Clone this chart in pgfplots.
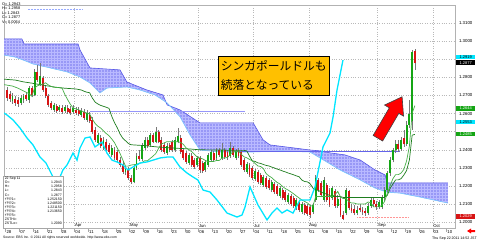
\documentclass[border=0pt]{standalone}
\usepackage{fontspec}
\setmainfont{Liberation Sans}
\newfontfamily\cjk{Noto Sans CJK JP}
\usepackage{pgfplots}
\pgfplotsset{compat=1.18}
\usepackage{pgfplotstable}
\usepgfplotslibrary{fillbetween}
\usetikzlibrary{patterns}

\definecolor{cloudfill}{RGB}{152,152,246}
\definecolor{cloudhatch}{RGB}{185,185,255}
\definecolor{cloudtop}{RGB}{90,90,230}
\definecolor{cloudbot}{RGB}{120,200,255}
\definecolor{chikou}{RGB}{0,230,255}
\definecolor{tenkan}{RGB}{70,175,70}
\definecolor{kijun}{RGB}{30,125,30}
\definecolor{candR}{RGB}{215,20,20}
\definecolor{candG}{RGB}{20,165,20}
\definecolor{wick}{RGB}{120,120,120}
\definecolor{annot}{RGB}{255,192,0}
\definecolor{hlA}{RGB}{150,170,255}
\definecolor{hlB}{RGB}{150,150,250}
\definecolor{hlC}{RGB}{100,100,235}
\definecolor{hlD}{RGB}{255,150,150}

% rising sessions: day o h l c
\pgfplotstableread{
d o h l c
2 1.2670 1.2714 1.2653 1.2697
5 1.2659 1.2700 1.2645 1.2686
6 1.2675 1.2710 1.2660 1.2697
8 1.2675 1.2755 1.2660 1.2741
10 1.2703 1.2845 1.2695 1.2830
12 1.2763 1.2880 1.2750 1.2807
17 1.2620 1.2660 1.2610 1.2648
19 1.2620 1.2650 1.2610 1.2637
21 1.2615 1.2650 1.2605 1.2637
24 1.2609 1.2645 1.2600 1.2631
27 1.2593 1.2630 1.2580 1.2615
29 1.2565 1.2620 1.2555 1.2604
33 1.2438 1.2495 1.2425 1.2482
35 1.2410 1.2470 1.2400 1.2455
38 1.2372 1.2425 1.2360 1.2410
43 1.2278 1.2310 1.2260 1.2295
46 1.2222 1.2315 1.2215 1.2300
47 1.2300 1.2380 1.2290 1.2366
49 1.2350 1.2435 1.2340 1.2421
50 1.2410 1.2470 1.2400 1.2455
52 1.2427 1.2495 1.2415 1.2482
54 1.2444 1.2526 1.2435 1.2499
58 1.2383 1.2435 1.2372 1.2421
61 1.2399 1.2468 1.2390 1.2455
62 1.2444 1.2521 1.2435 1.2477
66 1.2328 1.2385 1.2317 1.2372
69 1.2317 1.2368 1.2305 1.2355
72 1.2289 1.2345 1.2278 1.2333
73 1.2317 1.2385 1.2305 1.2372
74 1.2344 1.2400 1.2333 1.2388
76 1.2355 1.2410 1.2345 1.2399
78 1.2355 1.2438 1.2345 1.2399
81 1.2366 1.2444 1.2355 1.2410
83 1.2355 1.2405 1.2344 1.2394
87 1.2278 1.2333 1.2267 1.2322
90 1.2239 1.2295 1.2228 1.2284
93 1.2206 1.2261 1.2194 1.2250
96 1.2178 1.2234 1.2166 1.2222
99 1.2144 1.2200 1.2134 1.2189
102 1.2111 1.2161 1.2100 1.2150
105 1.2079 1.2134 1.2067 1.2122
107 1.2057 1.2111 1.2045 1.2100
111 1.2057 1.2106 1.2045 1.2095
112 1.2122 1.2261 1.2111 1.2245
115 1.2122 1.2250 1.2111 1.2234
118 1.2134 1.2200 1.2122 1.2189
120 1.2090 1.2150 1.2080 1.2130
123 1.2051 1.2189 1.2040 1.2178
127 1.2051 1.2090 1.2040 1.2070
131 1.2051 1.2105 1.2040 1.2090
132 1.2090 1.2135 1.2080 1.2122
135 1.2085 1.2125 1.2075 1.2110
136 1.2084 1.2150 1.2073 1.2139
137 1.2139 1.2195 1.2120 1.2178
138 1.2178 1.2285 1.2165 1.2272
139 1.2272 1.2361 1.2255 1.2344
140 1.2344 1.2410 1.2330 1.2399
141 1.2399 1.2455 1.2380 1.2430
143 1.2405 1.2470 1.2395 1.2455
145 1.2430 1.2560 1.2420 1.2537
146 1.2537 1.2675 1.2520 1.2600
147 1.2560 1.2950 1.2510 1.2940
}\upc

% falling sessions
\pgfplotstableread{
d o h l c
0 1.2730 1.2747 1.2670 1.2686
1 1.2708 1.2725 1.2664 1.2681
3 1.2681 1.2697 1.2642 1.2659
4 1.2675 1.2690 1.2637 1.2653
7 1.2703 1.2720 1.2670 1.2681
9 1.2741 1.2752 1.2690 1.2703
11 1.2830 1.2868 1.2775 1.2785
13 1.2796 1.2810 1.2720 1.2730
14 1.2741 1.2755 1.2685 1.2697
15 1.2697 1.2710 1.2635 1.2648
16 1.2659 1.2670 1.2620 1.2631
18 1.2642 1.2655 1.2605 1.2615
20 1.2631 1.2645 1.2600 1.2609
22 1.2631 1.2645 1.2598 1.2609
23 1.2626 1.2640 1.2592 1.2604
25 1.2620 1.2635 1.2592 1.2604
26 1.2620 1.2635 1.2585 1.2598
28 1.2609 1.2625 1.2565 1.2576
30 1.2593 1.2610 1.2550 1.2560
31 1.2565 1.2580 1.2490 1.2499
32 1.2510 1.2525 1.2445 1.2455
34 1.2466 1.2480 1.2410 1.2421
36 1.2444 1.2460 1.2390 1.2399
37 1.2427 1.2440 1.2378 1.2388
39 1.2399 1.2415 1.2345 1.2355
40 1.2388 1.2400 1.2333 1.2344
41 1.2344 1.2360 1.2305 1.2317
42 1.2317 1.2330 1.2267 1.2278
44 1.2295 1.2305 1.2234 1.2245
45 1.2245 1.2260 1.2210 1.2222
48 1.2366 1.2400 1.2340 1.2350
51 1.2455 1.2470 1.2410 1.2421
53 1.2482 1.2495 1.2435 1.2444
55 1.2499 1.2510 1.2435 1.2444
56 1.2455 1.2470 1.2390 1.2399
57 1.2427 1.2440 1.2378 1.2388
59 1.2427 1.2440 1.2388 1.2399
60 1.2444 1.2455 1.2388 1.2399
63 1.2466 1.2480 1.2378 1.2388
64 1.2399 1.2410 1.2345 1.2355
65 1.2383 1.2395 1.2322 1.2333
67 1.2366 1.2380 1.2305 1.2317
68 1.2344 1.2355 1.2295 1.2306
70 1.2355 1.2368 1.2272 1.2289
71 1.2328 1.2340 1.2272 1.2284
75 1.2383 1.2395 1.2333 1.2344
77 1.2399 1.2410 1.2361 1.2372
79 1.2399 1.2410 1.2350 1.2361
80 1.2388 1.2400 1.2344 1.2355
82 1.2410 1.2421 1.2361 1.2372
84 1.2399 1.2410 1.2355 1.2366
85 1.2388 1.2400 1.2305 1.2317
86 1.2344 1.2355 1.2278 1.2289
88 1.2317 1.2328 1.2250 1.2261
89 1.2300 1.2311 1.2234 1.2245
91 1.2278 1.2289 1.2211 1.2222
92 1.2261 1.2272 1.2206 1.2217
94 1.2245 1.2256 1.2183 1.2194
95 1.2234 1.2245 1.2178 1.2189
97 1.2211 1.2222 1.2155 1.2166
98 1.2200 1.2211 1.2144 1.2155
100 1.2178 1.2189 1.2122 1.2134
101 1.2166 1.2178 1.2111 1.2122
103 1.2144 1.2155 1.2090 1.2100
104 1.2134 1.2144 1.2079 1.2090
106 1.2111 1.2122 1.2057 1.2067
108 1.2095 1.2106 1.2040 1.2051
109 1.2090 1.2100 1.2035 1.2045
110 1.2084 1.2095 1.2023 1.2040
113 1.2234 1.2245 1.2166 1.2178
114 1.2217 1.2228 1.2139 1.2150
116 1.2206 1.2217 1.2111 1.2122
117 1.2178 1.2189 1.2084 1.2095
119 1.2172 1.2183 1.2079 1.2090
121 1.2130 1.2144 1.2030 1.2040
122 1.2040 1.2060 1.2012 1.2020
124 1.2170 1.2180 1.2067 1.2079
125 1.2079 1.2100 1.2050 1.2060
126 1.2075 1.2095 1.2040 1.2051
128 1.2080 1.2100 1.2055 1.2067
129 1.2067 1.2085 1.2040 1.2055
130 1.2060 1.2080 1.2035 1.2051
133 1.2122 1.2135 1.2085 1.2100
134 1.2100 1.2115 1.2070 1.2085
142 1.2430 1.2455 1.2390 1.2405
144 1.2465 1.2510 1.2416 1.2430
148 1.2943 1.2958 1.2843 1.2877
}\downc

% lagging span as drawn
\pgfplotstableread{
d v
-1.09 1.2603
0 1.2592
2.18 1.2565
4.72 1.2520
7.26 1.2465
9.43 1.2427
11.97 1.2360
14.15 1.2327
16.69 1.2250
18.1 1.2233
19.23 1.2250
20.3 1.2289
21.77 1.2316
23.95 1.2382
25.4 1.2343
26.49 1.2410
28.3 1.2465
30.12 1.2471
31.93 1.2416
34.47 1.2443
36.28 1.2382
38.1 1.2343
39.91 1.2333
42.09 1.2316
43.9 1.2289
45.72 1.2305
48.26 1.2327
50.8 1.2333
52.98 1.2343
55.52 1.2355
58.05 1.2360
60.23 1.2360
62.77 1.2305
65.31 1.2272
67.49 1.2250
69.3 1.2233
71.12 1.2178
73.66 1.2167
76.2 1.2123
79.83 1.2051
83.45 1.2029
85.27 1.2040
86.36 1.2084
88.17 1.2195
91.08 1.2095
94.34 1.2013
96.15 1.2051
97.97 1.2079
99.78 1.2051
101.6 1.2068
103.77 1.2051
106.31 1.2123
109.94 1.2123
111.76 1.2195
114.66 1.2416
117.2 1.2493
118.3 1.2581
119.74 1.2730
121.9 1.2895
}\chik

\pgfplotstableread{
d v
-1.1 1.3012
5.4 1.3012
6.2 1.2984
25.8 1.2984
26.5 1.2951
30.1 1.2852
41.0 1.2841
43.5 1.2774
50.8 1.2730
56.6 1.2703
58.1 1.2648
62.8 1.2620
70.0 1.2549
89.3 1.2549
92.9 1.2455
95.4 1.2427
109.9 1.2399
113.6 1.2394
117.2 1.2383
122.6 1.2372
128.1 1.2344
133.5 1.2289
137.2 1.2261
137.9 1.2217
160.0 1.2217
}\cloudTop

\pgfplotstableread{
d v
-1.1 1.2923
2.9 1.2912
5.8 1.2896
9.4 1.2874
15.6 1.2852
21.8 1.2830
26.5 1.2802
30.1 1.2769
33.7 1.2714
36.3 1.2741
43.5 1.2747
48.3 1.2730
53.7 1.2703
58.1 1.2659
62.8 1.2582
66.4 1.2482
70.0 1.2399
77.3 1.2388
89.3 1.2388
99.1 1.2394
109.9 1.2388
113.6 1.2355
120.8 1.2289
128.1 1.2234
133.5 1.2189
137.9 1.2166
142.6 1.2161
149.9 1.2139
160.0 1.2106
}\cloudBot

\begin{document}
\begin{tikzpicture}
\begin{axis}[
  at={(0,0)}, anchor=south west, scale only axis,
  width=451bp, height=223bp,
  xmin=-1.09, xmax=162.55, ymin=1.19684, ymax=1.31994,
  axis background/.style={fill=white},
  axis line style={gray!60, line width=0.4bp},
  xtick={-0.5,4.5,...,159.5},
  xticklabels={28,07,14,21,28,04,11,18,25,02,09,16,23,30,06,13,20,27,04,11,18,25,01,08,15,22,29,05,12,19,26,03,10},
  xtick align=outside, xtick pos=bottom,
  major tick length=3.5bp,
  xtick style={gray!70, line width=0.4bp},
  xticklabel style={font=\fontsize{4.3}{5}\selectfont, anchor=north west, inner sep=0.4bp, xshift=0.3bp},
  xticklabel shift=-2bp,
  extra x ticks={24.5,44.5,69.5,89.5,109.5,134.5,154.5},
  extra x tick labels={},
  extra x tick style={grid=major, major tick length=0pt},
  ytick={1.20,1.21,1.22,1.23,1.24,1.25,1.26,1.27,1.28,1.29,1.30,1.31},
  yticklabels={1.2000,1.2100,1.2200,1.2300,1.2400,,1.2600,1.2700,1.2800,,1.3000,1.3100},
  ymajorgrids,
  major grid style={gray!55, dotted, line width=0.4bp},
  yticklabel pos=right,
  ytick style={draw=none},
  yticklabel style={font=\fontsize{4.4}{5}\selectfont, anchor=west, xshift=0.5bp},
]
% cloud
\addplot[draw=none, name path=ctop, forget plot] table[x=d, y=v] {\cloudTop};
\addplot[draw=none, name path=cbot, forget plot] table[x=d, y=v] {\cloudBot};
\addplot[fill=cloudfill, draw=none, forget plot] fill between[of=ctop and cbot];
\addplot[pattern=grid, pattern color=cloudhatch, draw=none, forget plot] fill between[of=ctop and cbot];
\addplot[cloudtop, line width=0.6bp, forget plot] table[x=d, y=v] {\cloudTop};
\addplot[cloudbot, line width=0.6bp, forget plot] table[x=d, y=v] {\cloudBot};

% horizontal reference lines
\addplot[hlA, densely dotted, line width=0.5bp, forget plot] coordinates {(7.6,1.3177) (27.2,1.3177)};
\addplot[hlB, line width=0.45bp, forget plot] coordinates {(30,1.2614) (86.4,1.2614)};
\addplot[hlC, line width=0.5bp, forget plot] coordinates {(83.5,1.2394) (142.6,1.2394)};
\addplot[hlD, densely dotted, line width=0.5bp, forget plot] coordinates {(127,1.2029) (146,1.2029)};

% wicks
\addplot[draw=none, mark=none, forget plot,
  error bars/.cd, y dir=plus, y explicit, error mark=none,
  error bar style={line width=0.5bp, wick}]
  table[x=d, y=l, y error expr=\thisrow{h}-\thisrow{l}] {\upc};
\addplot[draw=none, mark=none, forget plot,
  error bars/.cd, y dir=plus, y explicit, error mark=none,
  error bar style={line width=0.5bp, wick}]
  table[x=d, y=l, y error expr=\thisrow{h}-\thisrow{l}] {\downc};
% bodies
\addplot[draw=none, mark=none, forget plot,
  error bars/.cd, y dir=plus, y explicit, error mark=none,
  error bar style={line width=1.9bp, candG}]
  table[x=d, y=o, y error expr=\thisrow{c}-\thisrow{o}] {\upc};
\addplot[draw=none, mark=none, forget plot,
  error bars/.cd, y dir=plus, y explicit, error mark=none,
  error bar style={line width=1.9bp, candR}]
  table[x=d, y=c, y error expr=\thisrow{o}-\thisrow{c}] {\downc};

% Kijun
\addplot[kijun, line width=0.7bp, no marks] coordinates {
(-1.1,1.2790) (3,1.2785) (6,1.2775) (9,1.2768) (12,1.2760) (15,1.2752) (18,1.2745) (21,1.2740) (24,1.2737)
(25,1.2736) (26,1.2733) (27,1.2730) (28,1.2723) (29,1.2718) (30,1.2715) (31,1.2685) (32,1.2663) (33,1.2653)
(34,1.2645) (35,1.2640) (36,1.2635) (37,1.2629) (38,1.2585) (39,1.2550) (40,1.2522) (41,1.2488) (42,1.2464)
(43,1.2450) (44,1.2435) (45,1.2428) (50,1.2423) (55,1.2415) (60,1.2410) (66,1.2405) (70,1.2400) (79,1.2399)
(80,1.2397) (86,1.2397) (87,1.2394) (88,1.2365) (89,1.2339) (90,1.2336) (91,1.2328) (92,1.2325) (93,1.2319)
(94,1.2314) (95,1.2311) (96,1.2305) (97,1.2300) (98,1.2294) (99,1.2289) (100,1.2283) (101,1.2278) (102,1.2272)
(103,1.2267) (104,1.2262) (105,1.2256) (106,1.2251) (107,1.2233) (108,1.2225) (109,1.2223) (110,1.2212)
(111,1.2189) (112,1.2178) (113,1.2176) (114,1.2167) (115,1.2159) (116,1.2156) (117,1.2148) (118,1.2142)
(121,1.2142) (122,1.2137) (137,1.2137) (138,1.2149) (139,1.2187) (140,1.2211) (141,1.2234) (142,1.2234)
(143,1.2241) (144,1.2261) (145,1.2286) (146,1.2344) (147,1.2481) (148,1.2485)};

% Tenkan
\addplot[tenkan, line width=0.7bp, no marks] coordinates {
(-1.1,1.2760) (2,1.2752) (4,1.2740) (6,1.2725) (8,1.2710) (9,1.2696) (10,1.2741) (11,1.2753) (12,1.2759)
(13,1.2763) (14,1.2770) (15,1.2758) (16,1.2750) (17,1.2745) (19,1.2743) (20,1.2740) (21,1.2705) (22,1.2677)
(23,1.2651) (24,1.2631) (25,1.2626) (26,1.2620) (27,1.2615) (28,1.2608) (29,1.2603) (30,1.2598) (31,1.2568)
(32,1.2545) (33,1.2530) (34,1.2520) (35,1.2505) (36,1.2490) (37,1.2478) (38,1.2460) (39,1.2440) (40,1.2410)
(41,1.2380) (42,1.2345) (43,1.2310) (44,1.2310) (45,1.2316) (46,1.2318) (47,1.2320) (48,1.2325) (49,1.2330)
(50,1.2340) (51,1.2340) (52,1.2353) (53,1.2365) (54,1.2380) (55,1.2408) (56,1.2433) (57,1.2438) (58,1.2445)
(62,1.2445) (63,1.2440) (64,1.2430) (65,1.2410) (66,1.2400) (67,1.2390) (68,1.2375) (69,1.2360) (70,1.2355)
(71,1.2350) (72,1.2341) (73,1.2334) (74,1.2336) (75,1.2336) (76,1.2341) (77,1.2341) (78,1.2355) (79,1.2355)
(80,1.2358) (81,1.2375) (82,1.2389) (83,1.2389) (84,1.2394) (85,1.2375) (86,1.2361) (87,1.2356) (88,1.2347)
(89,1.2339) (90,1.2325) (91,1.2311) (92,1.2308) (93,1.2297) (94,1.2269) (95,1.2256) (96,1.2247) (97,1.2233)
(98,1.2220) (99,1.2212) (100,1.2197) (101,1.2186) (102,1.2178) (103,1.2168) (104,1.2157) (105,1.2145)
(106,1.2134) (107,1.2123) (108,1.2115) (109,1.2107) (110,1.2092) (111,1.2089) (112,1.2142) (118,1.2142)
(119,1.2153) (120,1.2170) (121,1.2140) (122,1.2131) (123,1.2131) (124,1.2115) (125,1.2106) (126,1.2106)
(127,1.2101) (130,1.2101) (131,1.2112) (132,1.2108) (133,1.2085) (135,1.2085) (136,1.2093) (137,1.2115)
(138,1.2160) (139,1.2201) (140,1.2240) (141,1.2263) (142,1.2263) (143,1.2272) (144,1.2292) (145,1.2340)
(146,1.2420) (147,1.2603) (148,1.2644)};

% Chikou span
\addplot[chikou, line width=1.3bp, no marks] table[x=d, y=v] {\chik};

% month names
\node[anchor=south west, inner sep=0.3bp, font=\fontsize{4.2}{5}\selectfont] at (axis cs:24.5,1.19684) {Apr};
\node[anchor=south west, inner sep=0.3bp, font=\fontsize{4.2}{5}\selectfont] at (axis cs:44.5,1.19684) {May};
\node[anchor=south west, inner sep=0.3bp, font=\fontsize{4.2}{5}\selectfont] at (axis cs:69.5,1.19684) {Jun};
\node[anchor=south west, inner sep=0.3bp, font=\fontsize{4.2}{5}\selectfont] at (axis cs:89.5,1.19684) {Jul};
\node[anchor=south west, inner sep=0.3bp, font=\fontsize{4.2}{5}\selectfont] at (axis cs:109.5,1.19684) {Aug};
\node[anchor=south west, inner sep=0.3bp, font=\fontsize{4.2}{5}\selectfont] at (axis cs:134.5,1.19684) {Sep};
\node[anchor=south west, inner sep=0.3bp, font=\fontsize{4.2}{5}\selectfont] at (axis cs:154.5,1.19684) {Oct};
\end{axis}

% top-left OHLC readout
\node[anchor=north west, inner sep=0, align=left, font=\fontsize{3.9}{4.5}\selectfont] at (-2bp,225.5bp)
  {O= 1.2943\\H= 1.2958\\L= 1.2843\\C= 1.2877\\V= 0.0064};

% data box
\filldraw[fill=white, draw=gray!70, line width=0.4bp] (-0.5bp,0.3bp) rectangle (59bp,52bp);
\node[anchor=north west, inner sep=0] at (0.6bp,51.6bp) {\fontsize{3.5}{4.15}\selectfont
\begin{tabular*}{57bp}{@{}l@{\extracolsep{\fill}}r@{}}
22 Sep 11 & \\
O= & 1.2943\\
H= & 1.2958\\
L= & 1.2843\\
C= & 1.2877\\
{\cjk ｲﾁﾓｸ1}= & 1.252150\\
{\cjk ｲﾁﾓｸ2}= & 1.248500\\
{\cjk ｲﾁﾓｸ3}= & 1.221150\\
{\cjk ｲﾁﾓｸ4}= & 1.213650\\
{\cjk ｲﾁﾓｸ5}= & \\
ZSTHi= & \\
ZSTLo= & 1.2090
\end{tabular*}};

% right-side value tags
\node[fill=chikou, inner sep=0, anchor=west, minimum width=19bp, minimum height=4.6bp, font=\fontsize{4}{4}\selectfont] at (452bp,171bp) {1.2919};
\node[fill=black, text=white, inner sep=0, anchor=west, minimum width=19bp, minimum height=4.6bp, font=\fontsize{4}{4}\selectfont] at (452bp,165.2bp) {1.2877};
\node[fill=candG, text=white, inner sep=0, anchor=west, minimum width=19bp, minimum height=4.4bp, font=\fontsize{4}{4}\selectfont] at (452bp,119.6bp) {1.2644};
\node[fill=chikou, inner sep=0, anchor=west, minimum width=19bp, minimum height=4.4bp, font=\fontsize{4}{4}\selectfont] at (452bp,106bp) {1.2553};
\node[fill=candG, text=white, inner sep=0, anchor=west, minimum width=19bp, minimum height=4.6bp, font=\fontsize{4}{4}\selectfont] at (452bp,94bp) {1.2485};
\node[fill=candR, text=white, inner sep=0, anchor=west, minimum width=19bp, minimum height=4.4bp, font=\fontsize{4}{4}\selectfont] at (452bp,11.5bp) {1.2029};

% annotation
\node[draw=black, line width=0.7bp, fill=annot, inner xsep=2.5bp, inner ysep=4.5bp, anchor=north west, align=left,
  font=\cjk\fontsize{11.8}{19}\selectfont] at (214bp,172bp) {シンガポールドルも\\続落となっている};

% red arrow
\begin{scope}[shift={(386bp,110.5bp)}, rotate=59.7]
\filldraw[fill=red, draw=black!75, line width=0.6bp] (-24bp,-5.5bp) -- (8bp,-5.5bp) -- (8bp,-11bp) -- (24bp,0bp) -- (8bp,11bp) -- (8bp,5.5bp) -- (-24bp,5.5bp) -- cycle;
\end{scope}

% footer
\node[anchor=west, inner sep=0, font=\fontsize{3.4}{4}\selectfont] at (-1bp,-10bp) {Source: EBS Inc. \textcopyright\ 2011 All rights reserved worldwide. http://www.ebs.com};
\node[anchor=east, inner sep=0, font=\fontsize{3.6}{4}\selectfont] at (473bp,-10.5bp) {Thu Sep 22 2011 14:52 JST};
\fill[red] (463bp,-3bp) -- (467bp,-0.5bp) -- (467bp,-2bp) -- (471bp,-2bp) -- (471bp,-4bp) -- (467bp,-4bp) -- (467bp,-5.5bp) -- cycle;

\pgfresetboundingbox
\path[use as bounding box] (-4bp,-18bp) rectangle (473bp,228bp);
\end{tikzpicture}
\end{document}
